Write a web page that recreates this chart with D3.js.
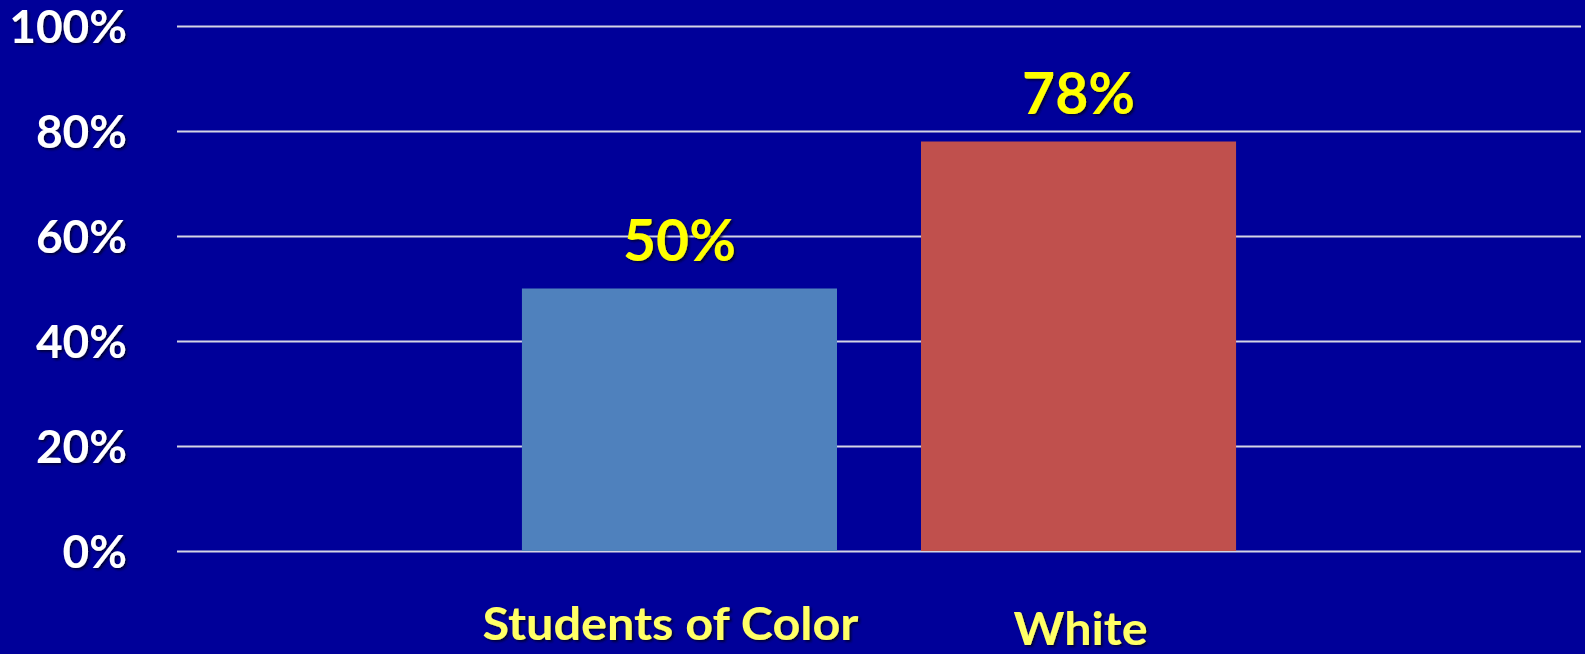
<!DOCTYPE html>
<html>
<head>
<meta charset="utf-8">
<script src="https://cdn.jsdelivr.net/npm/d3@7/dist/d3.min.js"></script>
<style>
  html, body { margin: 0; padding: 0; background: #000099; }
  svg { display: block; }
  text { font-family: Lato, "Open Sans", sans-serif; font-weight: 700; }
</style>
</head>
<body>
<svg id="chart" width="1585" height="654"></svg>
<script>
// Share of students, by group
const groups = ["Students of Color", "White"];
const values = [0.50, 0.78];
const valueLabels = ["50%", "78%"];
const barColors = ["#4F81BD", "#C0504D"];
const yTicks = [0, 0.2, 0.4, 0.6, 0.8, 1.0];
const yTickLabels = ["0%", "20%", "40%", "60%", "80%", "100%"];

const W = 1585, H = 654;
const plot = { left: 177, right: 1581, top: 26, bottom: 551 };

const svg = d3.select("#chart");

// soft dark drop shadow used on all the text
const defs = svg.append("defs");
defs.append("filter").attr("id", "shadow")
  .attr("x", "-10%").attr("y", "-20%").attr("width", "130%").attr("height", "150%")
  .append("feDropShadow")
  .attr("dx", 2).attr("dy", 2).attr("stdDeviation", 1.2)
  .attr("flood-color", "#000022").attr("flood-opacity", 0.75);

svg.append("rect").attr("width", W).attr("height", H).attr("fill", "#000099");

const y = d3.scaleLinear().domain([0, 1]).range([plot.bottom, plot.top]);

// one cluster holding both bars
const x0 = d3.scaleBand().domain(["all"]).range([plot.left, plot.right])
  .paddingInner(0).paddingOuter(0.483);
const x1 = d3.scaleBand().domain(groups).range([0, x0.bandwidth()])
  .paddingInner(0.2105).paddingOuter(0);

// gridlines and percentage labels
const yAxis = d3.axisLeft(y).tickValues(yTicks)
  .tickFormat((d, i) => yTickLabels[i])
  .tickSize(-(plot.right - plot.left)).tickPadding(50);

const gy = svg.append("g").attr("transform", `translate(${plot.left},0)`).call(yAxis);
gy.select(".domain").remove();
gy.selectAll(".tick line")
  .attr("stroke", "#D4D4E4").attr("stroke-width", 2);
gy.selectAll(".tick text")
  .attr("fill", "#FFFFFF")
  .attr("font-size", 46)
  .attr("font-family", "Lato, 'Open Sans', sans-serif")
  .attr("font-weight", 700)
  .attr("dy", "0.36em")
  .attr("filter", "url(#shadow)");

// bars
svg.append("g").selectAll("rect")
  .data(groups)
  .join("rect")
  .attr("x", g => x0("all") + x1(g))
  .attr("width", x1.bandwidth())
  .attr("y", (g, i) => y(values[i]))
  .attr("height", (g, i) => y(0) - y(values[i]))
  .attr("fill", (g, i) => barColors[i]);

// value labels above the bars
svg.append("g").selectAll("text")
  .data(groups)
  .join("text")
  .attr("x", g => x0("all") + x1(g) + x1.bandwidth() / 2)
  .attr("y", (g, i) => y(values[i]) - 28)
  .attr("text-anchor", "middle")
  .attr("font-size", 57)
  .attr("fill", "#FFFF00")
  .attr("filter", "url(#shadow)")
  .text((g, i) => valueLabels[i]);

// group names below the chart
const nameDx = [-9, 2];
const nameBaseline = [640, 645];
const nameWidth = [376, 134];
svg.append("g").selectAll("text")
  .data(groups)
  .join("text")
  .attr("x", (g, i) => x0("all") + x1(g) + x1.bandwidth() / 2 + nameDx[i])
  .attr("y", (g, i) => nameBaseline[i])
  .attr("text-anchor", "middle")
  .attr("font-size", 45)
  .attr("fill", "#FFFF66")
  .attr("filter", "url(#shadow)")
  .attr("textLength", (g, i) => nameWidth[i])
  .attr("lengthAdjust", "spacingAndGlyphs")
  .text(g => g);
</script>
</body>
</html>
